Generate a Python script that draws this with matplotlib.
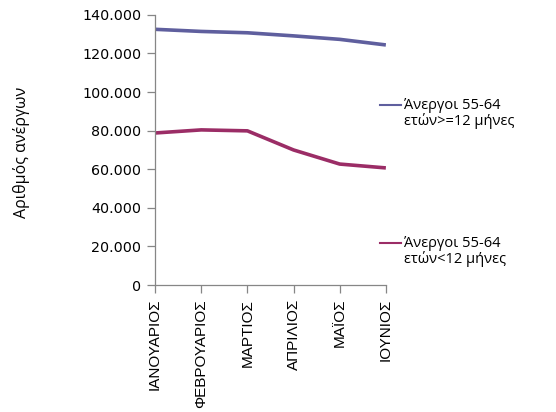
import matplotlib
matplotlib.use("Agg")
import matplotlib.pyplot as plt
from matplotlib.ticker import FuncFormatter, MultipleLocator

months = ["ΙΑΝΟΥΑΡΙΟΣ", "ΦΕΒΡΟΥΑΡΙΟΣ", "ΜΑΡΤΙΟΣ", "ΑΠΡΙΛΙΟΣ", "ΜΑΪΟΣ", "ΙΟΥΝΙΟΣ"]
long_term = [132500, 131400, 130700, 129100, 127300, 124400]
short_term = [78800, 80400, 79900, 70000, 62700, 60700]
label_long = "Άνεργοι 55-64\nετών>=12 μήνες"
label_short = "Άνεργοι 55-64\nετών<12 μήνες"
ylabel = "Αριθμός ανέργων"

c_long = "#5F5F9E"
c_short = "#9B2D66"
grey = "#868686"

fig = plt.figure(figsize=(5.56, 4.12), dpi=100)
ax = fig.add_axes([0.279, 0.308, 0.415, 0.656])
x = list(range(len(months)))
ax.plot(x, long_term, color=c_long, lw=2.6, solid_capstyle="butt")
ax.plot(x, short_term, color=c_short, lw=2.6, solid_capstyle="butt")

ax.set_xlim(0, len(months) - 1)
ax.set_ylim(0, 140000)
ax.yaxis.set_major_locator(MultipleLocator(20000))
ax.yaxis.set_major_formatter(FuncFormatter(lambda v, p: "0" if v == 0 else f"{int(v):,}".replace(",", ".")))
ax.set_xticks(x)
ax.set_xticklabels(months, rotation=90, fontsize=11, family="Liberation Sans")
for lab in ax.get_yticklabels():
    lab.set_fontsize(10.3)
ax.tick_params(axis="y", direction="out", length=6, width=0.9, color=grey, pad=4)
ax.tick_params(axis="x", direction="out", length=6, width=0.9, color=grey, pad=4)
for s in ["top", "right"]:
    ax.spines[s].set_visible(False)
for s in ["left", "bottom"]:
    ax.spines[s].set_color(grey)
    ax.spines[s].set_linewidth(0.9)

fig.text(0.038, 0.63, ylabel, rotation=90, ha="center", va="center", fontsize=11.5, family="Open Sans")

# legend entries
for yline, col, lab in [(0.745, c_long, label_long), (0.41, c_short, label_short)]:
    fig.add_artist(plt.Line2D([0.683, 0.722], [yline, yline], color=col, lw=1.5, transform=fig.transFigure))
    fig.text(0.726, yline + 0.018, lab, ha="left", va="top", fontsize=10.5, family="Open Sans", linespacing=1.05)

fig.savefig("out.png", dpi=100)
